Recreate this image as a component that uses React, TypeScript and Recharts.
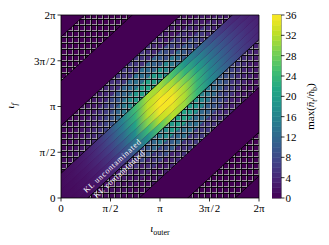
import React from 'react'
import {
  ComposedChart, Area, XAxis, YAxis, ReferenceArea, ReferenceDot,
  BarChart, Bar,
} from 'recharts'

const FONT = "'Liberation Serif', 'DejaVu Serif', serif"

// axes in units of pi
const PI_TICKS = [0, 0.5, 1, 1.5, 2]
const PI_LABELS = ['0', 'π\u200A/\u200A2', 'π', '3π\u200A/\u200A2', '2π']

// iota_outer positions where each strip is sampled (units of pi)
const X_SAMPLES = [0, 0.125, 0.25, 0.375, 0.5, 0.625, 0.75, 0.875, 1, 1.125, 1.25, 1.375, 1.5, 1.625, 1.75, 1.875, 2]

// strips parallel to the diagonal, offset iota_f - iota_outer (units of pi)
const STRIP_LO = [-0.79, -0.61, -0.44, -0.27, -0.18, -0.09, 0, 0.09, 0.18, 0.27, 0.44, 0.61]
const STRIP_HI = [-0.61, -0.44, -0.27, -0.18, -0.09, 0, 0.09, 0.18, 0.27, 0.44, 0.61, 0.79]

// max(n_t/n_b) along each strip
const STRIP_VALUES = [
  [0.1, 0.1, 0.1, 0.1, 0.2, 0.3, 0.6, 1.2, 2.2, 3.8, 5.4, 6.2, 5.8, 4.6, 3.3, 2.2, 1.4],
  [0.2, 0.2, 0.2, 0.4, 0.7, 1.3, 2.1, 4.0, 7.0, 10.8, 13.2, 12.8, 10.6, 7.6, 5.3, 3.5, 2.3],
  [0.3, 0.4, 0.6, 1.0, 1.7, 3.0, 5.4, 9.4, 14.8, 19.6, 20.6, 18.0, 13.8, 9.8, 6.6, 4.4, 2.9],
  [0.5, 0.7, 1.1, 1.9, 3.3, 5.7, 10.4, 17.6, 26.1, 32.0, 30.5, 24.0, 17.5, 12.5, 8.5, 5.6, 3.6],
  [0.7, 0.9, 1.5, 2.6, 4.5, 8.0, 14.1, 24.0, 32.5, 34.5, 31.5, 24.0, 17.2, 12.0, 8.0, 5.3, 3.5],
  [0.8, 1.1, 1.9, 3.2, 5.6, 10.1, 17.6, 29.5, 35.5, 35.5, 31.0, 23.5, 16.0, 11.0, 7.2, 4.7, 3.2],
  [0.9, 1.3, 2.3, 4.0, 6.9, 12.4, 20.8, 32.0, 36.0, 34.5, 28.5, 20.5, 14.0, 9.5, 6.2, 4.0, 2.8],
  [1.0, 1.6, 2.7, 4.7, 8.4, 14.7, 23.4, 32.5, 34.5, 31.0, 23.5, 17.0, 11.8, 7.8, 5.0, 3.3, 2.4],
  [1.0, 1.7, 2.9, 5.1, 9.2, 16.0, 24.6, 31.5, 31.0, 25.5, 18.5, 13.2, 9.0, 5.9, 3.8, 2.6, 2.0],
  [1.0, 1.6, 2.8, 4.9, 8.6, 13.9, 19.0, 20.8, 18.7, 14.2, 9.8, 6.7, 4.3, 2.8, 1.8, 1.3, 1.1],
  [0.8, 1.4, 2.5, 4.5, 7.6, 11.3, 13.4, 12.7, 10.0, 7.0, 4.8, 3.1, 2.0, 1.3, 0.9, 0.7, 0.6],
  [0.6, 0.9, 1.7, 3.0, 4.7, 5.9, 5.9, 5.0, 3.6, 2.4, 1.6, 1.0, 0.7, 0.5, 0.3, 0.2, 0.2],
]

// hatched (KL contaminated) bands, same offset units
const HATCH_LO = [-1.76, -0.79, 0.27, 1.28]
const HATCH_HI = [-1.28, -0.27, 0.79, 1.76]

// colorbar
const CB_LEVELS = [0, 1, 2, 3, 4, 5, 6, 7, 8, 9, 10, 11, 12, 13, 14, 15, 16, 17, 18, 19, 20,
  21, 22, 23, 24, 25, 26, 27, 28, 29, 30, 31, 32, 33, 34, 35, 36]
const CB_TICKS = [0, 4, 8, 12, 16, 20, 24, 28, 32, 36]
const V_MAX = 36

const VIRIDIS = ['#440154', '#482475', '#414487', '#355f8d', '#2a788e', '#21918c',
  '#22a884', '#44bf70', '#7ad151', '#bddf26', '#fde725']

const rgb = (h: string) => [1, 3, 5].map(i => parseInt(h.slice(i, i + 2), 16))

function viridis(v: number) {
  const t = Math.max(0, Math.min(1, v / V_MAX)) * (VIRIDIS.length - 1)
  const i = Math.min(Math.floor(t), VIRIDIS.length - 2)
  const f = t - i
  const a = rgb(VIRIDIS[i])
  const b = rgb(VIRIDIS[i + 1])
  const c = a.map((x, k) => Math.round(x + (b[k] - x) * f))
  return `rgb(${c[0]},${c[1]},${c[2]})`
}

// a band between iota_f = iota_outer + lo and iota_outer + hi
const band = (lo: number, hi: number) => [
  { x: 0, band: [lo, hi] },
  { x: 2, band: [lo + 2, hi + 2] },
]

const tickStyle = { fill: '#000', fontSize: 11, fontFamily: FONT }
const tickLine = { stroke: '#000', strokeWidth: 0.8 }

function XLabel({ viewBox }: any) {
  return (
    <text x={viewBox.x + viewBox.width / 2} y={viewBox.y + 34} textAnchor="middle" fontFamily={FONT} fontSize={11} fill="#000">
      <tspan fontStyle="italic">ι</tspan>
      <tspan fontSize={8} dy={2.5}>outer</tspan>
    </text>
  )
}

function YLabel() {
  return (
    <text x={14} y={106} textAnchor="middle" fontFamily={FONT} fontSize={11} fill="#000" transform="rotate(-90 14 106)">
      <tspan fontStyle="italic">ι</tspan>
      <tspan fontSize={8} dy={2.5} fontStyle="italic">f</tspan>
    </text>
  )
}

function CbLabel({ viewBox }: any) {
  const x = viewBox.x + 33
  const y = viewBox.y + viewBox.height / 2
  return (
    <text x={x} y={y} textAnchor="middle" fontFamily={FONT} fontSize={11} fill="#000" transform={`rotate(-90 ${x} ${y})`}>
      <tspan>max(</tspan>
      <tspan fontStyle="italic">n̄</tspan>
      <tspan fontSize={8} dy={2.5} fontStyle="italic">t</tspan>
      <tspan dy={-2.5}>/</tspan>
      <tspan fontStyle="italic">ṅ</tspan>
      <tspan fontSize={8} dy={2.5}>b</tspan>
      <tspan dy={-2.5}>)</tspan>
    </text>
  )
}

function KLText({ viewBox, text }: any) {
  const x = viewBox.x + viewBox.width / 2
  const y = viewBox.y + viewBox.height / 2
  return (
    <text x={x} y={y} textAnchor="middle" dominantBaseline="central" fontFamily={FONT} fontSize={8}
      letterSpacing={0.7} fill="#fff" transform={`rotate(-42.7 ${x} ${y})`}>
      {text}
    </text>
  )
}

const cbRow = [{
  name: 'cb',
  ...Object.fromEntries(CB_LEVELS.slice(0, -1).map((l, i) => [`s${i}`, CB_LEVELS[i + 1] - l])),
}]

export default function App() {
  return (
    <div style={{ position: 'absolute', left: 0, top: 0, width: 329, height: 245, background: '#fff' }}>
      <div style={{ position: 'absolute', left: 0, top: 0 }}>
        <ComposedChart width={270} height={245} margin={{ top: 15, right: 11, bottom: 17, left: 0 }}>
          <defs>
            {STRIP_VALUES.map((row, i) => (
              <linearGradient key={i} id={`strip${i}`} x1="0" y1="0" x2="1" y2="0">
                {row.map((v, k) => (
                  <stop key={k} offset={X_SAMPLES[k] / 2} stopColor={viridis(v)} />
                ))}
              </linearGradient>
            ))}
            <pattern id="hatch" width="6" height="6" patternUnits="userSpaceOnUse">
              <rect x={0} y={0} width={1} height={6} fill="#b0b0b0" opacity={0.8} />
              <rect x={0} y={0} width={6} height={1} fill="#b0b0b0" opacity={0.8} />
              <rect x={1} y={0} width={1} height={6} fill="#000" opacity={0.85} />
              <rect x={0} y={1} width={6} height={1} fill="#000" opacity={0.85} />
            </pattern>
          </defs>
          <XAxis type="number" dataKey="x" domain={[0, 2]} ticks={PI_TICKS} interval={0} allowDataOverflow
            tickFormatter={(v: number) => PI_LABELS[PI_TICKS.indexOf(v)]}
            axisLine={false} tickLine={tickLine} tickSize={3.5} tickMargin={3} height={30}
            tick={tickStyle} label={<XLabel />} />
          <YAxis type="number" domain={[0, 2]} ticks={PI_TICKS} interval={0} allowDataOverflow
            tickFormatter={(v: number) => PI_LABELS[PI_TICKS.indexOf(v)]}
            axisLine={false} tickLine={tickLine} tickSize={3.5} tickMargin={2} width={61}
            tick={tickStyle} label={<YLabel />} />
          <Area data={[{ x: 0, band: [0, 2] }, { x: 2, band: [0, 2] }]} dataKey="band" type="linear"
            fill={VIRIDIS[0]} fillOpacity={1} stroke="none" dot={false} activeDot={false} isAnimationActive={false} />
          {STRIP_VALUES.map((_, i) => (
            <Area key={`s${i}`} data={band(STRIP_LO[i], STRIP_HI[i])} dataKey="band" type="linear"
              fill={`url(#strip${i})`} fillOpacity={1} stroke="none" dot={false} activeDot={false}
              isAnimationActive={false} />
          ))}
          {HATCH_LO.map((lo, i) => (
            <Area key={`h${i}`} data={band(lo, HATCH_HI[i])} dataKey="band" type="linear"
              fill="url(#hatch)" fillOpacity={1} stroke="#000" strokeWidth={0.8} dot={false} activeDot={false}
              isAnimationActive={false} />
          ))}
          <ReferenceDot x={0.52} y={0.35} r={1} fill="none" stroke="none"
            label={<KLText text="KL uncontaminated" />} />
          <ReferenceDot x={0.59} y={0.26} r={1} fill="none" stroke="none"
            label={<KLText text="KL contaminated" />} />
          <ReferenceArea x1={0} x2={2} y1={0} y2={2} fill="none" stroke="#000" strokeWidth={0.8} ifOverflow="visible" />
        </ComposedChart>
      </div>
      <div style={{ position: 'absolute', left: 272, top: 0 }}>
        <BarChart width={57} height={245} data={cbRow} margin={{ top: 15, right: 0, bottom: 47, left: 0 }}
          barCategoryGap={0} barGap={0}>
          <XAxis dataKey="name" type="category" hide />
          <YAxis orientation="right" type="number" domain={[0, V_MAX]} ticks={CB_TICKS} interval={0}
            axisLine={false} tickLine={tickLine} tickSize={3.5} tickMargin={1} width={48}
            tick={tickStyle} label={<CbLabel />} />
          {CB_LEVELS.slice(0, -1).map((l, i) => (
            <Bar key={i} dataKey={`s${i}`} stackId="cb" fill={viridis(l + 0.5)} stroke={viridis(l + 0.5)}
              strokeWidth={0.5} isAnimationActive={false} />
          ))}
          <ReferenceArea y1={0} y2={V_MAX} fill="none" stroke="#000" strokeWidth={0.8} ifOverflow="visible" />
        </BarChart>
      </div>
    </div>
  )
}
